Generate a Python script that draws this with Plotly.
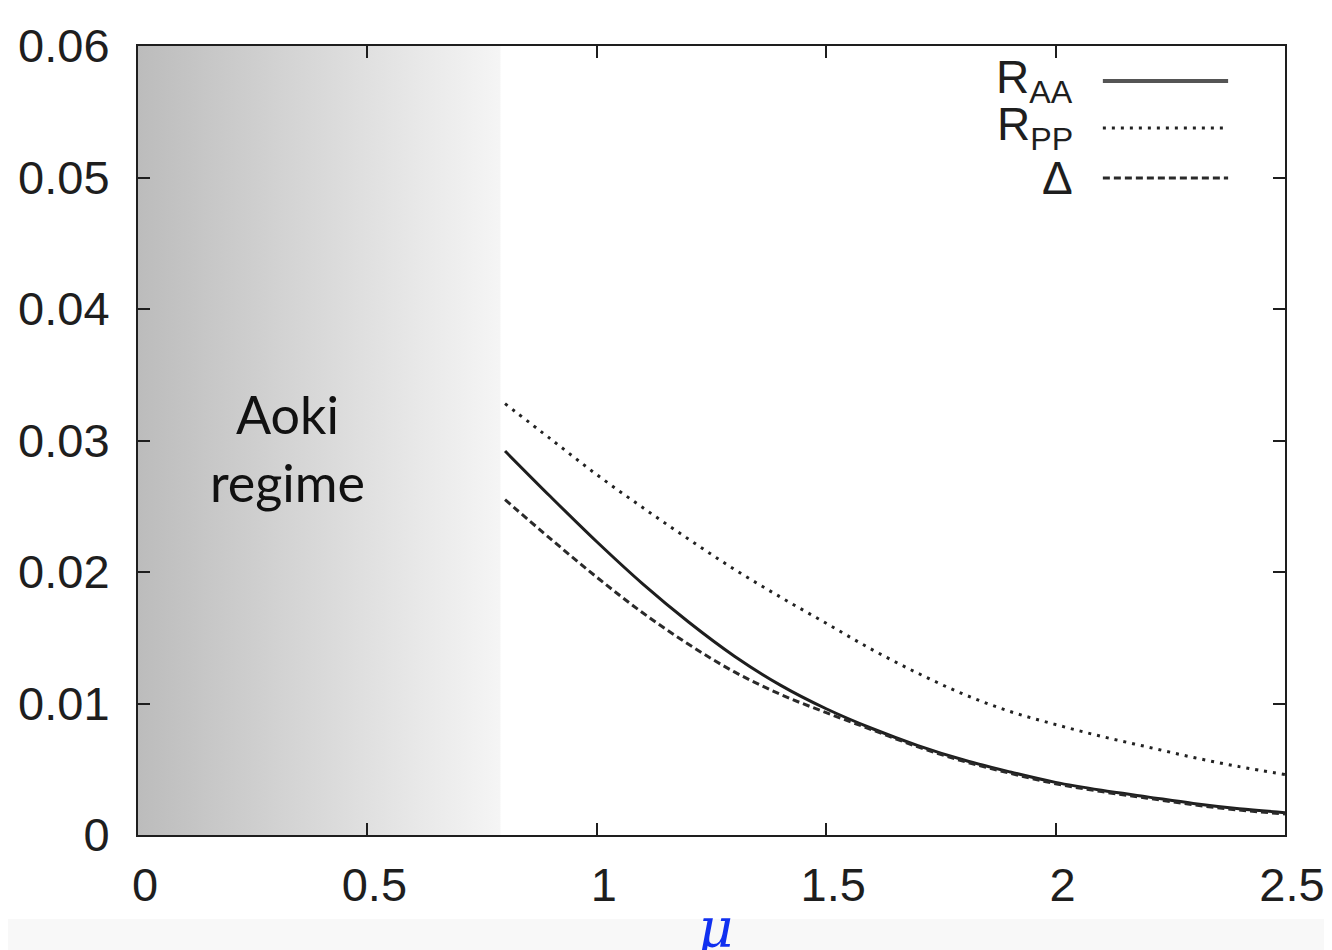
import plotly.graph_objects as go

# ---- data ----
mu = [0.8, 0.9, 1.0, 1.1, 1.2, 1.3, 1.4, 1.5, 1.6, 1.7, 1.8, 1.9, 2.0, 2.1, 2.2, 2.3, 2.4, 2.5]
R_AA = [0.0292, 0.0257, 0.0223, 0.0191, 0.0162, 0.0136, 0.0114, 0.0096, 0.0081, 0.0068,
        0.0057, 0.0048, 0.0040, 0.0034, 0.0029, 0.0024, 0.0020, 0.0017]
R_PP = [0.0328, 0.0301, 0.0274, 0.0249, 0.0225, 0.0202, 0.0181, 0.0161, 0.0141, 0.0123,
        0.0107, 0.0094, 0.0084, 0.0075, 0.0067, 0.0059, 0.0052, 0.0046]
Delta = [0.0255, 0.0225, 0.0196, 0.0169, 0.0145, 0.0124, 0.0107, 0.0093, 0.0080, 0.0067,
         0.0056, 0.0047, 0.0039, 0.0033, 0.0028, 0.0023, 0.0019, 0.0016]

x_ticks = [0, 0.5, 1, 1.5, 2, 2.5]
x_tick_labels = ["0", "0.5", "1", "1.5", "2", "2.5"]
y_ticks = [0, 0.01, 0.02, 0.03, 0.04, 0.05, 0.06]
y_tick_labels = ["0", "0.01", "0.02", "0.03", "0.04", "0.05", "0.06"]

aoki_range = [0.0, 0.79]
x_range = [0, 2.5]
y_range = [0, 0.06]

legend_names = ["R<sub>AA</sub>", "R<sub>PP</sub>", "Δ"]
legend_y = [0.05734, 0.05377, 0.04996]
legend_x = [2.103, 2.376]
legend_label_x = 2.043

INK = "#1e1e1e"
TICKFONT = dict(family="Liberation Sans, Arial, sans-serif", size=47, color=INK)

# figure geometry (page body has an 8px margin)
W, H = 1324, 942
PL, PR, PT, PB = 138, 1285, 46, 835   # plot area in window pixels
OFF = 8


def px_to_paper(x=None, y=None):
    if x is not None:
        return (x - PL) / (PR - PL)
    return (PB - y) / (PB - PT)


fig = go.Figure()

# gradient "Aoki regime" region
fig.add_trace(go.Scatter(
    x=[aoki_range[0], aoki_range[1], aoki_range[1], aoki_range[0], aoki_range[0]],
    y=[y_range[0], y_range[0], y_range[1], y_range[1], y_range[0]],
    mode="lines", line=dict(width=0), fill="toself",
    fillgradient=dict(type="horizontal",
                      colorscale=[[0, "#bcbcbc"], [1, "#f5f5f5"]]),
    hoverinfo="skip", showlegend=False))

DOT = "3px,6px"
DASH = "7px,4px"
styles = [
    (R_AA, dict(color=INK, width=3, dash="solid")),
    (R_PP, dict(color="#222222", width=3, dash=DOT)),
    (Delta, dict(color="#2a2a2a", width=3, dash=DASH)),
]
for ys, ln in styles:
    fig.add_trace(go.Scatter(x=mu, y=ys, mode="lines", line=dict(shape="spline", **ln),
                             showlegend=False, hoverinfo="skip"))

# manual legend (labels left, samples right)
sample_styles = [dict(color="#555555", width=4, dash="solid"),
                 dict(color="#222222", width=3, dash=DOT),
                 dict(color="#2a2a2a", width=3, dash=DASH)]
for name, yy, st in zip(legend_names, legend_y, sample_styles):
    fig.add_shape(type="line", xref="x", yref="y", x0=legend_x[0], x1=legend_x[1],
                  y0=yy, y1=yy, line=st)
    fig.add_annotation(x=legend_label_x, y=yy, xref="x", yref="y", text=name,
                       showarrow=False, xanchor="right", yanchor="middle",
                       font=dict(family="Liberation Sans, Arial, sans-serif", size=46, color=INK))

# Aoki regime label
fig.add_annotation(x=0.325, y=0.0294, xref="x", yref="y", text="Aoki<br>regime",
                   showarrow=False, xanchor="center", yanchor="middle",
                   font=dict(family="Lato, sans-serif", size=52, color="#111111"))

# mu axis label
fig.add_annotation(x=px_to_paper(x=715), y=px_to_paper(y=928), xref="paper", yref="paper",
                   text="<i>μ</i>", showarrow=False, xanchor="center", yanchor="middle",
                   font=dict(family="DejaVu Serif, serif", size=54, color="#1030f0"))

# light strip below the image area
fig.add_shape(type="rect", xref="paper", yref="paper",
              x0=px_to_paper(x=0), x1=px_to_paper(x=1340),
              y0=px_to_paper(y=960), y1=px_to_paper(y=919),
              fillcolor="#f8f8f8", line=dict(width=0), layer="below")

axis_common = dict(showgrid=False, zeroline=False, showline=True, linecolor=INK, linewidth=2,
                   mirror="ticks", ticks="inside", ticklen=12, tickwidth=2, tickcolor=INK,
                   tickfont=TICKFONT, automargin=False)

fig.update_xaxes(range=x_range, tickvals=x_ticks, ticktext=x_tick_labels,
                 ticklabelstandoff=8, ticklabelshift=7, **axis_common)
fig.update_yaxes(range=y_range, tickvals=y_ticks, ticktext=y_tick_labels,
                 ticklabelstandoff=17, **axis_common)

fig.update_layout(width=W, height=H, autosize=False,
                  margin=dict(l=PL - OFF, r=W + OFF - PR, t=PT - OFF, b=H + OFF - PB),
                  paper_bgcolor="white", plot_bgcolor="white",
                  showlegend=False)

fig.write_html("out.html")
